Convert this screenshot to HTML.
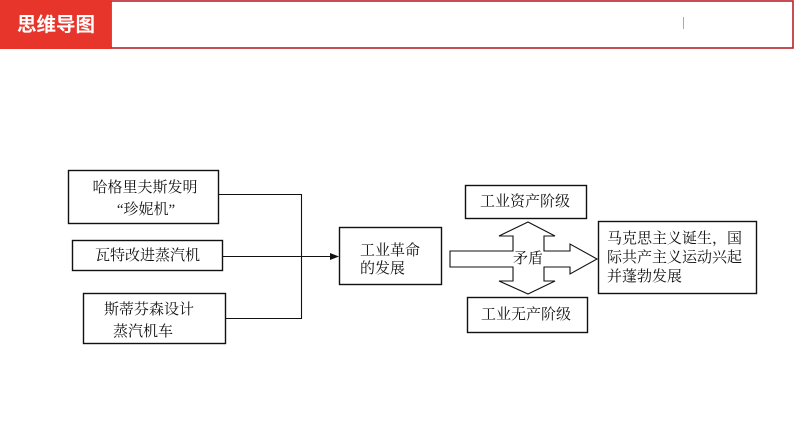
<!DOCTYPE html>
<html>
<head>
<meta charset="utf-8">
<style>
  html, body { margin:0; padding:0; background:#ffffff; }
  body { width:794px; height:447px; overflow:hidden; position:relative; }
  svg { position:absolute; left:0; top:0; }
  .t { font-family: "Liberation Serif", "Noto Serif CJK SC", serif; font-size:15px; fill:#111; }
  .h { font-family: "Liberation Sans", "Noto Sans CJK SC", sans-serif; font-size:19.5px; font-weight:bold; fill:#fff; }
</style>
</head>
<body>
<svg width="794" height="447" viewBox="0 0 794 447" xmlns="http://www.w3.org/2000/svg">
  <!-- header -->
  <rect x="111" y="1" width="682" height="47" fill="#fff" stroke="#b8232a" stroke-width="1.6"/>
  <rect x="0" y="0" width="111" height="49" fill="#e8352b"/>
  <text class="h" x="56" y="25" text-anchor="middle" dominant-baseline="central">思维导图</text>
  <line x1="683.5" y1="17" x2="683.5" y2="29" stroke="#aaa" stroke-width="1"/>

  <!-- left boxes -->
  <rect x="68.5" y="170.5" width="150" height="53" fill="#fff" stroke="#111" stroke-width="1.4"/>
  <text class="t" x="145" y="188" text-anchor="middle" dominant-baseline="central">哈格里夫斯发明</text>
  <text class="t" x="146" y="210" text-anchor="middle" dominant-baseline="central">“珍妮机”</text>

  <rect x="72.5" y="240.5" width="150" height="30" fill="#fff" stroke="#111" stroke-width="1.4"/>
  <text class="t" x="147.5" y="256" text-anchor="middle" dominant-baseline="central">瓦特改进蒸汽机</text>

  <rect x="83.5" y="293.5" width="142" height="50" fill="#fff" stroke="#111" stroke-width="1.4"/>
  <text class="t" x="104" y="310" dominant-baseline="central">斯蒂芬森设计</text>
  <text class="t" x="113" y="332" dominant-baseline="central">蒸汽机车</text>

  <!-- connectors -->
  <polyline points="219,194.5 301.5,194.5 301.5,318.5 226,318.5" fill="none" stroke="#111" stroke-width="1.1"/>
  <line x1="223" y1="256.5" x2="333" y2="256.5" stroke="#111" stroke-width="1.1"/>
  <polygon points="339,256.5 330,253 330,260" fill="#111"/>

  <!-- central box -->
  <rect x="339.5" y="227.5" width="102" height="57" fill="#fff" stroke="#111" stroke-width="1.4"/>
  <text class="t" x="360" y="251" dominant-baseline="central">工业革命</text>
  <text class="t" x="360" y="269" dominant-baseline="central">的发展</text>

  <!-- top / bottom boxes -->
  <rect x="465.5" y="185.5" width="121" height="33" fill="#fff" stroke="#111" stroke-width="1.4"/>
  <text class="t" x="480" y="202" dominant-baseline="central">工业资产阶级</text>
  <rect x="467.5" y="297.5" width="120" height="35" fill="#fff" stroke="#111" stroke-width="1.4"/>
  <text class="t" x="481" y="315" dominant-baseline="central">工业无产阶级</text>

  <!-- cross arrow -->
  <polygon points="528,222 555,236 544,236 544,251 570,251 570,244 597,259 570,274 570,267 544,267 544,281 555,281 528,294 499,281 513,281 513,267 450,267 450,251 513,251 513,236 499,236"
           fill="#fff" stroke="#111" stroke-width="1.1" stroke-linejoin="miter"/>
  <text class="t" x="528" y="259" text-anchor="middle" dominant-baseline="central">矛盾</text>

  <!-- right box -->
  <rect x="598.5" y="221.5" width="158" height="72" fill="#fff" stroke="#111" stroke-width="1.4"/>
  <text class="t" x="607" y="239" dominant-baseline="central">马克思主义诞生，国</text>
  <text class="t" x="607" y="258" dominant-baseline="central">际共产主义运动兴起</text>
  <text class="t" x="607" y="277" dominant-baseline="central">并蓬勃发展</text>
</svg>
</body>
</html>
